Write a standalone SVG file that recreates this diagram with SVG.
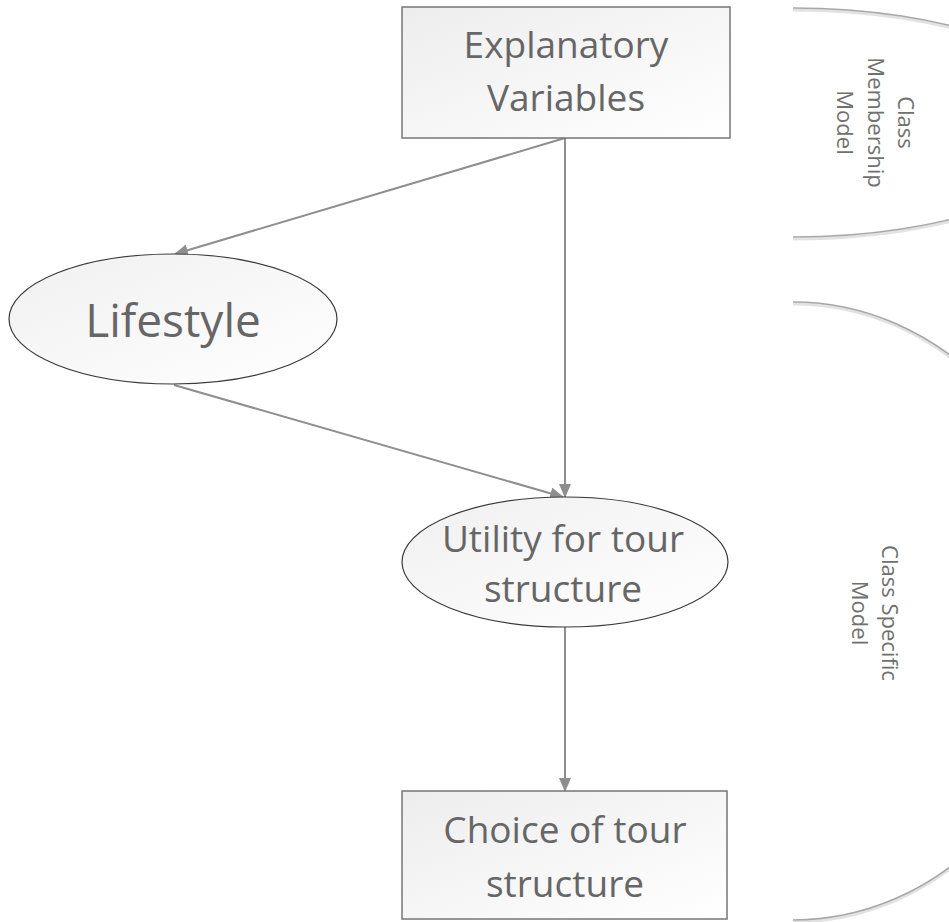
<svg xmlns="http://www.w3.org/2000/svg" width="949" height="922" viewBox="0 0 949 922">
<style>
  .box { stroke: #767676; stroke-width: 1.5; fill: url(#boxfill); }
  .ell { stroke: #3a3a3a; stroke-width: 1.2; fill: url(#ellfill); }
  .lbl { font-family: "Open Sans", "Liberation Sans", sans-serif; fill: #666666; text-anchor: middle; }
  .side { font-family: "Open Sans", "Liberation Sans", sans-serif; fill: #707070; text-anchor: middle; font-size: 22px; }
  .conn { stroke: #8e8e8e; stroke-width: 2; fill: none; marker-end: url(#arrow); }
  .brace { stroke: #a8a8a8; stroke-width: 1.6; fill: none; }
  .braceShadow { stroke: #e2e2e2; stroke-width: 3; fill: none; }
</style>
<defs>
  <linearGradient id="boxfill" x1="0" y1="0" x2="1" y2="1">
    <stop offset="0" stop-color="#ededed"/>
    <stop offset="1" stop-color="#ffffff"/>
  </linearGradient>
  <linearGradient id="ellfill" x1="0" y1="0" x2="1" y2="1">
    <stop offset="0" stop-color="#f0f0f0"/>
    <stop offset="1" stop-color="#ffffff"/>
  </linearGradient>
  <marker id="arrow" markerUnits="userSpaceOnUse" markerWidth="14" markerHeight="12" refX="13" refY="6" orient="auto">
    <path d="M0,0 L14,6 L0,12 Z" fill="#8e8e8e"/>
  </marker>
</defs>
<rect width="949" height="922" fill="#ffffff"/>

<g id="braces">
  <path class="braceShadow" d="M793,10 A295,114.5 0 0 1 793,239"/>
  <path class="brace" d="M793,8 A295,114.5 0 0 1 793,237"/>
  <path class="braceShadow" d="M793,304 A280,309 0 0 1 793,922"/>
  <path class="brace" d="M793,302 A280,309 0 0 1 793,920"/>
</g>

<g id="connectors">
  <line class="conn" x1="565" y1="138" x2="175" y2="254"/>
  <line class="conn" x1="565" y1="138" x2="565" y2="497"/>
  <line class="conn" x1="174" y1="385" x2="563" y2="497"/>
  <line class="conn" x1="565" y1="627" x2="565" y2="791"/>
</g>

<g id="explanatory">
  <rect class="box" x="402" y="7" width="328" height="131"/>
  <text class="lbl" font-size="37" x="566" y="58">Explanatory</text>
  <text class="lbl" font-size="37" x="566" y="111">Variables</text>
</g>

<g id="lifestyle">
  <ellipse class="ell" cx="173" cy="319" rx="164" ry="65"/>
  <text class="lbl" font-size="46" x="173" y="337">Lifestyle</text>
</g>

<g id="utility">
  <ellipse class="ell" cx="565" cy="562" rx="163" ry="65"/>
  <text class="lbl" font-size="37" x="563" y="552">Utility for tour</text>
  <text class="lbl" font-size="37" x="563" y="602">structure</text>
</g>

<g id="choice">
  <rect class="box" x="402" y="791" width="325" height="128"/>
  <text class="lbl" font-size="37" x="565" y="843">Choice of tour</text>
  <text class="lbl" font-size="37" x="565" y="897">structure</text>
</g>

<g id="label-membership" transform="translate(868,122.5) rotate(90)">
  <text class="side" x="0" y="-30">Class</text>
  <text class="side" x="0" y="0">Membership</text>
  <text class="side" x="0" y="31">Model</text>
</g>

<g id="label-specific" transform="translate(882,613) rotate(90)">
  <text class="side" x="0" y="0">Class Specific</text>
  <text class="side" x="0" y="30">Model</text>
</g>
</svg>
